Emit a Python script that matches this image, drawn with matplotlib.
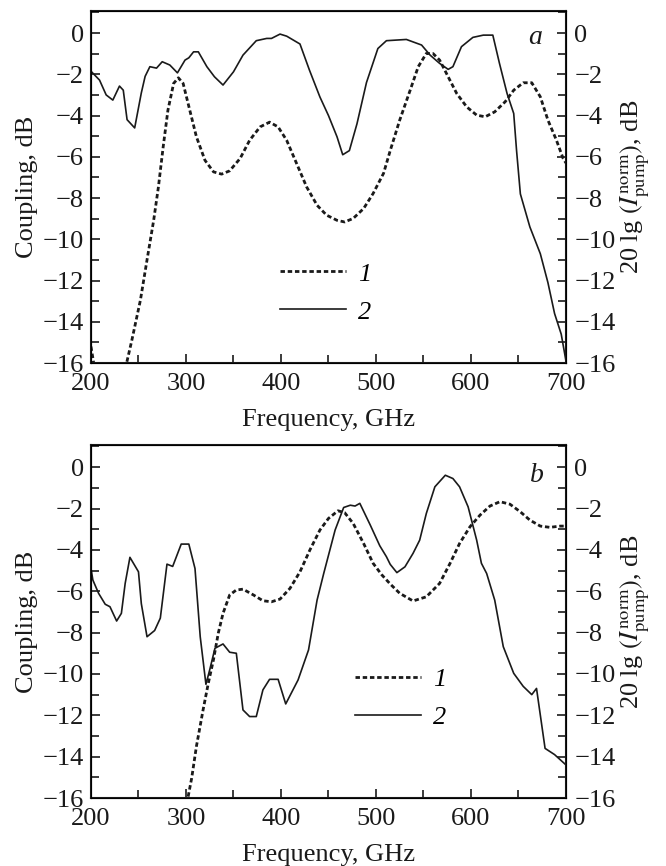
import numpy as np
import matplotlib
matplotlib.use("Agg")
import matplotlib.pyplot as plt
from matplotlib.ticker import MultipleLocator

plt.rcParams['font.family'] = ['Liberation Serif', 'DejaVu Serif']
plt.rcParams['mathtext.fontset'] = 'stix'
plt.rcParams['font.size'] = 19

# panel a
fa_solid = [200, 209, 216, 223, 230, 234, 238, 246, 253, 257, 262, 269, 275, 283, 291, 299, 303,
            308, 313, 322, 330, 339, 350, 360, 374, 385, 390, 399, 406, 420, 430, 441, 450, 459,
            465, 472, 480, 490, 502, 511, 532, 548, 557, 567, 576, 581, 590, 602, 613, 623, 630,
            638, 645, 648, 652, 662, 673, 681, 688, 695, 700]
va_solid = [-1.85, -2.28, -3.0, -3.25, -2.57, -2.77, -4.2, -4.6, -2.9, -2.1, -1.63, -1.7, -1.39,
            -1.55, -1.93, -1.31, -1.2, -0.91, -0.91, -1.63, -2.12, -2.52, -1.88, -1.07, -0.37,
            -0.26, -0.26, -0.05, -0.15, -0.53, -1.8, -3.1, -4.0, -5.03, -5.9, -5.7, -4.4, -2.4,
            -0.75, -0.37, -0.31, -0.58, -1.07, -1.47, -1.76, -1.63, -0.66, -0.21, -0.1, -0.1,
            -1.47, -2.93, -3.9, -5.7, -7.8, -9.4, -10.7, -12.1, -13.6, -14.6, -15.9]
fa_dash = [200, 205, 215, 228, 237.5, 243, 252, 259, 266, 271, 276, 281, 287, 292, 297, 304, 311,
           320, 329, 337.5, 346, 357, 367, 378, 388, 397, 406, 416.5, 427, 438, 448, 459, 467, 476,
           487, 497, 508, 515, 525, 536, 544.5, 553, 560, 567, 576, 585, 595.5, 606, 615, 625,
           636, 645, 655, 664, 673, 681, 690, 697, 700]
va_dash = [-15.2, -16.6, -18.0, -18.0, -16.0, -14.9, -12.96, -11.0, -9.08, -7.46, -5.52, -3.74,
           -2.44, -2.17, -2.44, -3.74, -5.03, -6.17, -6.73, -6.84, -6.68, -6.08, -5.2, -4.55,
           -4.32, -4.55, -5.2, -6.33, -7.46, -8.35, -8.83, -9.08, -9.16, -8.99, -8.51, -7.78,
           -6.8, -5.7, -4.22, -2.77, -1.63, -0.99, -0.99, -1.31, -2.12, -2.93, -3.58, -3.98,
           -4.06, -3.82, -3.33, -2.77, -2.41, -2.41, -3.09, -4.22, -5.2, -6.08, -6.3]

# panel b
fb_solid = [200, 202, 208, 215, 220, 227, 232, 236, 241, 250, 253, 259, 267, 273, 280, 286, 295,
            303, 309.5, 315, 321, 325, 330.5, 339, 346, 353, 360, 367, 374, 381, 388, 397, 405,
            418, 429, 438, 445, 457, 466, 473, 478, 483, 494, 504, 511, 515, 522, 530.5, 539, 546,
            553, 562, 573, 581, 588, 597, 606, 611, 616.5, 625, 634, 645, 655, 664, 669, 678,
            688, 700]
vb_solid = [-4.9, -5.46, -6.1, -6.63, -6.75, -7.44, -7.07, -5.62, -4.36, -5.06, -6.6, -8.2, -7.9,
            -7.3, -4.69, -4.8, -3.72, -3.72, -4.9, -8.2, -10.5, -9.8, -8.76, -8.55, -8.95, -9.0,
            -11.74, -12.06, -12.06, -10.77, -10.26, -10.26, -11.45, -10.29, -8.84, -6.43, -5.14,
            -3.04, -1.95, -1.84, -1.88, -1.75, -2.8, -3.8, -4.33, -4.7, -5.1, -4.82, -4.17,
            -3.53, -2.24, -0.95, -0.39, -0.55, -0.95, -1.92, -3.53, -4.65, -5.14, -6.43, -8.68,
            -9.97, -10.6, -11.0, -10.7, -13.6, -13.9, -14.4]
fb_dash = [296, 302, 306, 311, 318, 323.5, 329, 334, 339, 346, 353, 360, 371, 381, 390, 399,
           409.5, 420, 430.5, 441, 450, 460, 467, 476, 487, 497, 506, 515, 525, 539, 553, 567,
           578, 588, 599, 609.5, 620, 630.5, 641, 652, 662, 673, 683, 694, 700]
vb_dash = [-17.3, -16.0, -15.04, -13.5, -11.74, -10.45, -9.3, -8.03, -7.07, -6.18, -5.94, -5.9,
           -6.18, -6.46, -6.51, -6.38, -5.86, -5.06, -4.0, -3.04, -2.48, -2.11, -2.2, -2.72,
           -3.69, -4.65, -5.2, -5.65, -6.1, -6.47, -6.27, -5.62, -4.65, -3.69, -2.88, -2.32,
           -1.88, -1.67, -1.79, -2.16, -2.56, -2.85, -2.91, -2.85, -2.85]

right_label = r'20 lg $(I_{\rm pump}^{\rm norm})$, dB'

fig = plt.figure(figsize=(6.66, 8.66), dpi=100)
ax_a = fig.add_axes([0.1366, 0.5808, 0.7132, 0.4065])
ax_b = fig.add_axes([0.1366, 0.0785, 0.7132, 0.4076])

dash_style = (0, (1.6, 1.0))
ink = '#1a1a1a'


def style_axes(ax):
    ax.set_xlim(200, 700)
    ax.set_ylim(-16, 1.07)
    ax.xaxis.set_major_locator(MultipleLocator(100))
    ax.xaxis.set_minor_locator(MultipleLocator(50))
    ax.yaxis.set_major_locator(MultipleLocator(2))
    ax.yaxis.set_minor_locator(MultipleLocator(1))
    ax.tick_params(which='both', direction='in', top=False, right=True, width=1.2,
                   colors=ink)
    ax.tick_params(which='major', length=6.5)
    ax.tick_params(which='minor', length=5.5)
    ax.tick_params(axis='x', which='major', pad=7.5)
    ax.tick_params(axis='y', which='major', pad=5)
    for s in ax.spines.values():
        s.set_linewidth(1.5)
        s.set_color(ink)
    ax.set_xlabel('Frequency, GHz', labelpad=10, color=ink)
    ax.set_ylabel('Coupling, dB', labelpad=3, color=ink)
    tw = ax.twinx()
    tw.set_ylim(ax.get_ylim())
    tw.yaxis.set_major_locator(MultipleLocator(2))
    tw.yaxis.set_minor_locator(MultipleLocator(1))
    tw.tick_params(which='both', direction='in', width=1.2, colors=ink)
    tw.tick_params(which='major', length=6.5, pad=6)
    tw.tick_params(which='minor', length=5.5)
    tw.set_ylabel(right_label, labelpad=2, color=ink)


for ax, fs, vs, fd, vd, leg_xy, tag, tag_xy in [
        (ax_a, fa_solid, va_solid, fa_dash, va_dash, (0.398, 0.199), 'a', (0.935, 0.926)),
        (ax_b, fb_solid, vb_solid, fb_dash, vb_dash, (0.556, 0.282), 'b', (0.938, 0.915))]:
    style_axes(ax)
    ax.plot(fd, vd, color=ink, lw=2.0, linestyle=dash_style, label='1')
    ax.plot(fs, vs, color=ink, lw=1.2, label='2')
    ax.legend(loc='center left', bbox_to_anchor=leg_xy, frameon=False, borderpad=0,
              borderaxespad=0, handlelength=2.5, handletextpad=0.45, labelspacing=0.55,
              prop={'style': 'italic', 'size': 19})
    ax.text(tag_xy[0], tag_xy[1], tag, transform=ax.transAxes, style='italic', fontsize=20,
            ha='center', va='center', color=ink)

fig.savefig('out.png', dpi=100)
